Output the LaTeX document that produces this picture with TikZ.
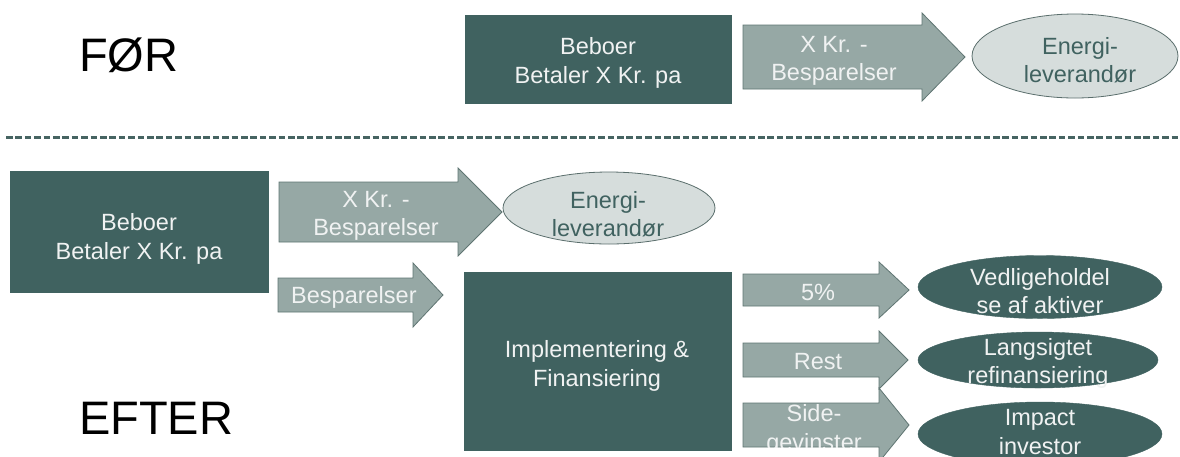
\documentclass[tikz,border=0pt]{standalone}
\usepackage{fontspec}
\setmainfont{Liberation Sans}
\usetikzlibrary{shapes.geometric}
\definecolor{darkteal}{RGB}{64,98,96}
\definecolor{arrowfill}{RGB}{150,168,165}
\definecolor{arrowline}{RGB}{95,117,114}
\definecolor{lightfill}{RGB}{214,221,220}
\definecolor{lightline}{RGB}{90,110,108}
\definecolor{boxtext}{RGB}{240,242,242}
\definecolor{dashcol}{RGB}{70,100,98}
% block arrow: shaft start x, head start x, tip x, centre y, half shaft, half head
\newcommand\blockarrow[6]{%
  \filldraw[blockarrow] (#1,#4-#5) -- (#2,#4-#5) -- (#2,#4-#6) -- (#3,#4)
    -- (#2,#4+#6) -- (#2,#4+#5) -- (#1,#4+#5) -- cycle;}
\begin{document}
\begin{tikzpicture}[x=1pt,y=-1pt,
  darkbox/.style={draw=darkteal,fill=darkteal,inner sep=0pt},
  blockarrow/.style={fill=arrowfill,draw=arrowline,line width=0.8pt,line join=miter},
  lightell/.style={ellipse,draw=lightline,fill=lightfill,line width=0.8pt,inner sep=0pt},
  darkell/.style={ellipse,draw=darkteal,fill=darkteal,inner sep=0pt},
  wtxt/.style={text=boxtext,align=center,font=\fontsize{23.5}{28.5}\selectfont,inner sep=0pt},
  dtxt/.style={text=darkteal,align=center,font=\fontsize{23.5}{28.5}\selectfont,inner sep=0pt},
  bigtxt/.style={text=black,font=\fontsize{47}{50}\selectfont,inner sep=0pt,anchor=base west}]
\useasboundingbox (0,0) rectangle (1180,456);
\clip (0,0) rectangle (1180,456);
\fill[white] (0,0) rectangle (1180,456);

% ---- FØR ----
\node[bigtxt] (for) at (79,71) {FØR};
\node[darkbox,minimum width=266,minimum height=88] (b1) at (598,59) {};
\node[wtxt] (b1t) at (598,63) {Beboer\\Betaler X Kr. pa};
\blockarrow{743}{922}{965}{57}{32}{44}
\node[wtxt] (a1t) at (834,61) {X Kr. -\\Besparelser};
\node[lightell,minimum width=206,minimum height=84] (e1) at (1075,56) {};
\node[dtxt] (e1t) at (1080,60) {Energi-\\leverandør};

% ---- separator ----
\coordinate (dl) at (6,137);
\coordinate (dr) at (1180,137);
\draw[dashcol,line width=3pt,dash pattern=on 6.6pt off 2.8pt] (dl) -- (dr);

% ---- EFTER ----
\node[bigtxt] (efter) at (79,434) {EFTER};
\node[darkbox,minimum width=258,minimum height=121] (b2) at (139,232) {};
\node[wtxt] (b2t) at (139,239) {Beboer\\Betaler X Kr. pa};
\blockarrow{279}{458}{502}{212}{30}{44}
\node[wtxt] (a2t) at (376,216) {X Kr. -\\Besparelser};
\node[lightell,minimum width=212,minimum height=72] (e2) at (609,208) {};
\node[dtxt] (e2t) at (608,214) {Energi-\\leverandør};

\blockarrow{278}{413}{443}{295}{17}{32}
\node[wtxt,anchor=west] (a3t) at (291,297) {Besparelser};

\node[darkbox,minimum width=267,minimum height=178] (b3) at (597.5,361) {};
\node[wtxt] (b3t) at (597,366) {Implementering \&\\Finansiering};

\blockarrow{743}{879}{909}{290}{16}{28}
\node[wtxt] (a4t) at (818,292) {5\%};
\blockarrow{743}{879}{908}{360}{17}{29}
\node[wtxt] (a5t) at (818,362) {Rest};
\blockarrow{743}{879}{909}{425}{22}{37}
\begin{scope}
  \clip (740,380) rectangle (900,447);
  \node[wtxt] (a6t) at (814,430) {Side-\\gevinster};
\end{scope}

\node[darkell,minimum width=244,minimum height=63] (e3) at (1040,287) {};
\node[wtxt] (e3t) at (1040,291) {Vedligeholdel\\se af aktiver};
\node[darkell,minimum width=240,minimum height=56] (e4) at (1038,360) {};
\begin{scope}
  \clip (900,320) rectangle (1180,389);
  \node[wtxt] (e4t) at (1038,363.5) {Langsigtet\\refinansiering};
\end{scope}
\node[darkell,minimum width=244,minimum height=64] (e5) at (1040,434) {};
\node[wtxt] (e5t) at (1040,432) {Impact\\investor};
\end{tikzpicture}
\end{document}
